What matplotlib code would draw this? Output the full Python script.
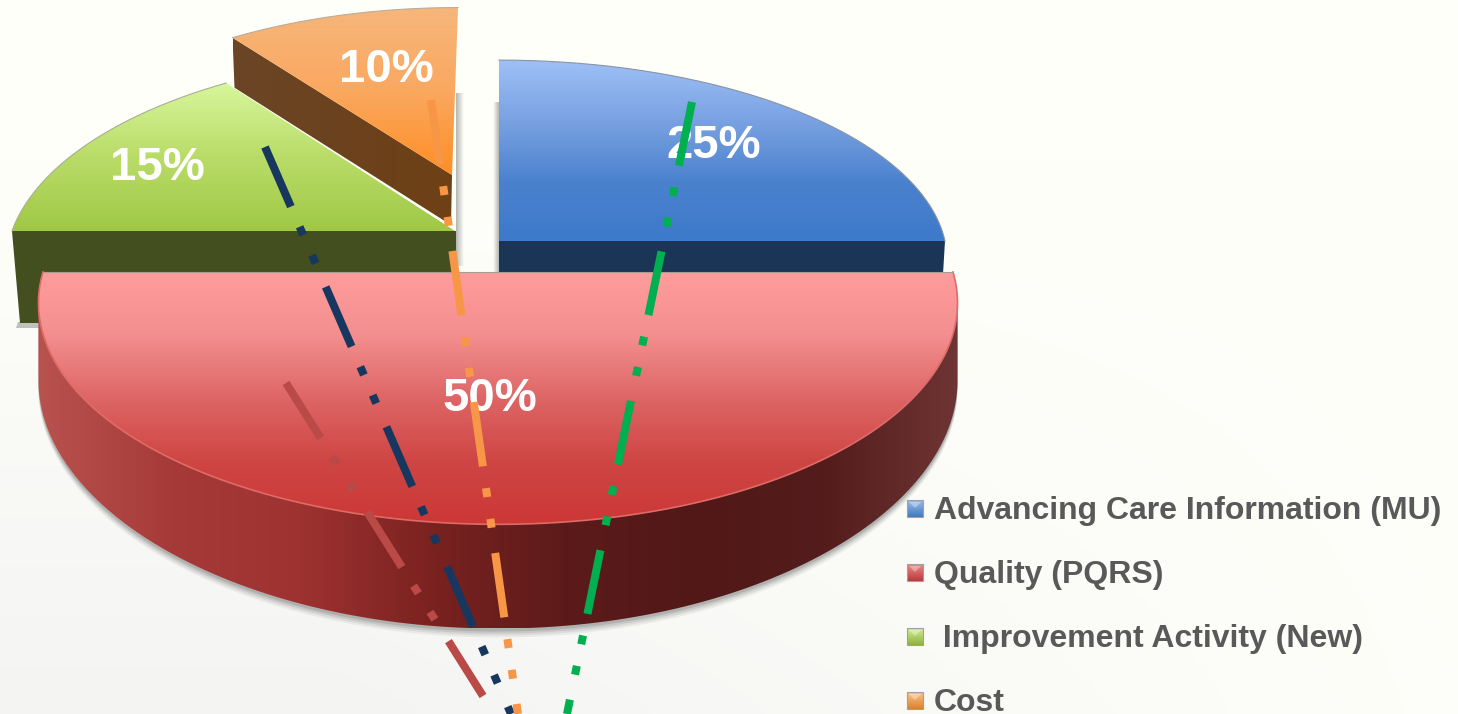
import numpy as np
import matplotlib
matplotlib.use("Agg")
import matplotlib.pyplot as plt
from matplotlib.colors import LinearSegmentedColormap
from matplotlib.patches import Polygon

plt.rcParams['font.family'] = ['Liberation Sans', 'DejaVu Sans']
plt.rcParams['lines.scale_dashes'] = False

# Chart data
categories = ["Advancing Care Information (MU)", "Quality (PQRS)",
              " Improvement Activity (New)", "Cost"]
shares = [25, 50, 15, 10]
pct_labels = ["25%", "50%", "15%", "10%"]
label_x = [714, 490, 157, 386]
label_y = [146, 399, 168, 70]

# Slice layout: apex, radii, perspective, shear
apex_x = [499, 498, 455, 452]
apex_y = [241, 272, 231, 175]
radius_x = [446, 455, 443, 405]
radius_y = [199, 217, 208, 180]
persp = [0.10, 0.14, 0.17, 0.075]
shear = [0, 0, 0, -0.036]

# Leader lines, dash-dot-dot, from start to end
line_colors = ["#00B050", "#B94A48", "#17375E", "#F79646"]
line_x0 = [692, 286, 265, 431]
line_y0 = [102, 383, 147, 100]
line_x1 = [567, 483, 511, 518]
line_y1 = [714, 696, 714, 714]

legend_y = [511, 575, 639, 703]
legend_box_y = [508, 572, 636, 700]
legend_colors = [("#9DBEEA", "#3F78BE"), ("#F08A8A", "#B53A38"),
                 ("#D3EE98", "#8DB23C"), ("#FBC68E", "#D9812A")]

layer = [1]


def next_z():
    # painter's order, images and patches share one counter
    layer[0] += 1
    return layer[0]


def ramp(stops):
    return LinearSegmentedColormap.from_list("r", stops)


def gradient_fill(ax, pts, stops, horizontal=False):
    # gradient image clipped to a polygon
    pts = np.asarray(pts)
    x0, x1 = pts[:, 0].min(), pts[:, 0].max()
    y0, y1 = pts[:, 1].min(), pts[:, 1].max()
    t = np.linspace(0, 1, 256)
    arr = t[None, :] if horizontal else t[:, None]
    im = ax.imshow(arr, cmap=ramp(stops), extent=(x0, x1, y1, y0), aspect='auto',
                   vmin=0, vmax=1, interpolation='bilinear', zorder=next_z())
    clip = Polygon(pts, closed=True, transform=ax.transData, fc='none', ec='none')
    ax.add_patch(clip)
    im.set_clip_path(clip)
    return im


def soft_shadow(ax, extent, fade_in):
    # thin grey strip fading sideways
    a = np.linspace(0, 0.5, 32) if fade_in else np.linspace(0.5, 0, 32)
    arr = np.zeros((1, 32, 4))
    arr[..., :3] = 0.42
    arr[..., 3] = a
    ax.imshow(arr, extent=extent, aspect='auto', interpolation='bilinear', zorder=next_z())


def flat(ax, pts, color, alpha=None):
    ax.add_patch(Polygon(pts, fc=color, ec='none', alpha=alpha, zorder=next_z()))


def slice_outline(i, start_clock):
    # wedge outline from share, angles clockwise from 12 o'clock
    span = np.deg2rad(shares[i] * 3.6)
    a = np.deg2rad(start_clock) + np.linspace(0, span, 160)
    u, v = np.sin(a), -np.cos(a)
    w = 1 - persp[i] * v
    yy = radius_y[i] * v / w
    xx = radius_x[i] * u / w + shear[i] * yy
    return apex_x[i] + xx, apex_y[i] + yy


def main():
    fig = plt.figure(figsize=(14.58, 7.14), dpi=100)
    ax = fig.add_axes([0, 0, 1, 1])

    # background: warm white, going grey low on the left
    yy, xx = np.mgrid[0:1:60j, 0:1:120j]
    shade = np.clip(yy * 1.1 - 0.25, 0, 1) * np.clip(1.25 - xx * 1.15, 0, 1)
    bg = np.dstack([1 - 0.05 * shade, 1 - 0.05 * shade, 0.98 - 0.03 * shade])
    ax.imshow(bg, extent=(0, 1458, 714, 0), aspect='auto', interpolation='bilinear', zorder=0)

    starts = np.cumsum([0] + shares[:-1]) * 3.6

    soft_shadow(ax, (493, 499, 272, 102), True)
    soft_shadow(ax, (456, 464, 266, 93), False)

    # orange wall then top
    ox, oy = slice_outline(3, starts[3])
    wall = [(ox[0], oy[0]), (apex_x[3], apex_y[3]), (apex_x[3] - 1, apex_y[3] + 50),
            (ox[0] + 2, oy[0] + 50)]
    gradient_fill(ax, wall, ["#6A4526", "#6E4015"], horizontal=True)
    top = np.column_stack([np.r_[apex_x[3], ox], np.r_[apex_y[3], oy]])
    gradient_fill(ax, top, ["#F6B67C", "#FAA860", "#FF8E24"])
    ax.plot(ox, oy, color="#B8AE9E", lw=0.8, zorder=next_z())

    # green wall then top
    gx, gy = slice_outline(2, starts[2])
    flat(ax, [(18, 322), (40, 322), (40, 328), (16, 328)], "#9A9A96", 0.6)
    flat(ax, [(gx[0], gy[0]), (apex_x[2] + 1, apex_y[2]), (apex_x[2] + 1, 323), (20, 323)], "#434F1E")
    top = np.column_stack([np.r_[apex_x[2], gx], np.r_[apex_y[2], gy]])
    gradient_fill(ax, top, ["#D8F69C", "#B9DC68", "#A0C846"])
    ax.plot(gx, gy, color="#A8AE98", lw=0.8, zorder=next_z())

    # blue wall then top
    bx, by = slice_outline(0, starts[0])
    flat(ax, [(apex_x[0], apex_y[0]), (bx[-1], by[-1]), (bx[-1] - 2, 274), (apex_x[0], 274)], "#1A3556")
    top = np.column_stack([np.r_[apex_x[0], bx], np.r_[apex_y[0], by]])
    gradient_fill(ax, top, ["#9DC0F6", "#7AA2E2", "#4B82CE", "#3D7ACA"])
    ax.plot(bx, by, color="#8A94A4", lw=0.8, zorder=next_z())

    # red slice: shadow, extruded wall, top
    rx, ry = slice_outline(1, starts[1])
    v = np.clip((ry - apex_y[1]) / 252, 0, 1)
    depth = 75 / (1 - 0.28 * v)
    # wall silhouette runs between the widest points of the arc
    i0, i1 = np.argmax(rx), np.argmin(rx) + 1
    wx, wy, wd = rx[i0:i1], ry[i0:i1], depth[i0:i1]
    outer = np.column_stack([np.r_[wx, wx[::-1]], np.r_[wy, (wy + wd)[::-1]]])
    for off, alpha in zip((9, 7, 5, 3), (0.08, 0.10, 0.14, 0.20)):
        flat(ax, outer + [0, off], "#555555", alpha)
    gradient_fill(ax, outer, ["#B8524E", "#A63A38", "#9D3230", "#7A2220", "#5C1B1A",
                              "#521818", "#541C1C", "#6E3434"], horizontal=True)
    top = np.column_stack([rx, ry])
    gradient_fill(ax, top, ["#FF9C9C", "#F48F8F", "#DE6666", "#CE4644", "#CB3836"])
    ax.plot(rx, ry, color="#E06A66", lw=1.2, zorder=next_z())
    ax.plot([rx[0], rx[-1]], [ry[0], ry[-1]], color="#A89A94", lw=0.8, zorder=next_z())

    # percent labels sit under the leader lines
    for lab, x, y in zip(pct_labels, label_x, label_y):
        ax.text(x, y, lab, color="white", fontsize=34, fontweight='bold',
                ha='center', va='center', zorder=next_z())

    # dash-dot-dot leader lines, 8 px wide
    px = 0.72
    pattern = (65 * px, 22 * px, 9 * px, 22 * px, 9 * px, 25.5 * px)
    for c, x0, y0, x1, y1 in zip(line_colors, line_x0, line_y0, line_x1, line_y1):
        ax.plot([x0, x1], [y0, y1], color=c, lw=8 * px,
                linestyle=(0, pattern), dash_capstyle='butt', zorder=next_z())

    # legend
    for name, y, by0, (c0, c1) in zip(categories, legend_y, legend_box_y, legend_colors):
        box = [(907, by0 - 8), (923, by0 - 8), (923, by0 + 9), (907, by0 + 9)]
        gradient_fill(ax, box, [c0, c1])
        flat(ax, [(909, by0 - 6), (921, by0 - 6), (915, by0)], "#FFFFFF", 0.35)
        ax.add_patch(Polygon(box, fc='none', ec="#A0A0A0", lw=0.8, zorder=next_z()))
        ax.text(934, y, name, color="#595959", fontsize=23, fontweight='bold',
                ha='left', va='center', zorder=next_z())

    ax.set_xlim(0, 1458)
    ax.set_ylim(714, 0)
    ax.axis('off')
    fig.savefig("out.png", dpi=100)


if __name__ == "__main__":
    main()
